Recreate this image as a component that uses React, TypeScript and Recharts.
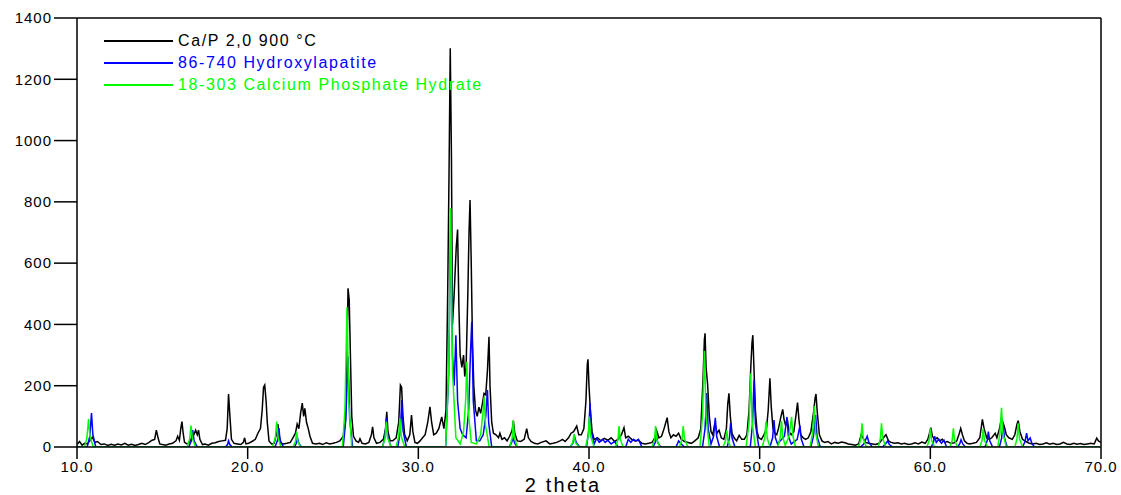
import { LineChart, Line, XAxis, YAxis, ReferenceLine } from 'recharts'

// 2 theta (deg) / intensity pairs
const sampleCaP: [number, number][] = [
  [10.0, 8], [10.15, 18], [10.3, 6], [10.45, 12], [10.6, 10], [10.75, 20], [10.9, 32], [11.05, 15],
  [11.2, 18], [11.4, 8], [11.6, 10], [11.8, 5], [12.0, 9], [12.2, 6], [12.4, 10], [12.6, 7],
  [12.8, 12], [13.0, 6], [13.2, 9], [13.4, 5], [13.6, 8], [13.8, 12], [14.0, 8], [14.2, 14],
  [14.4, 22], [14.55, 25], [14.65, 55], [14.75, 30], [14.85, 10], [15.0, 8], [15.2, 6], [15.4, 10],
  [15.6, 12], [15.8, 20], [15.9, 35], [16.0, 22], [16.08, 60], [16.15, 83], [16.22, 45], [16.3, 15],
  [16.45, 10], [16.55, 12], [16.7, 28], [16.85, 40], [16.95, 55], [17.05, 40], [17.12, 55], [17.2, 25],
  [17.35, 8], [17.5, 10], [17.7, 6], [17.9, 12], [18.1, 14], [18.3, 18], [18.5, 20], [18.7, 22],
  [18.8, 60], [18.88, 173], [18.96, 100], [19.05, 25], [19.2, 12], [19.4, 10], [19.6, 8], [19.75, 15],
  [19.82, 30], [19.9, 10], [20.05, 12], [20.25, 18], [20.45, 25], [20.6, 45], [20.75, 60], [20.85, 120],
  [20.93, 195], [21.0, 202], [21.08, 150], [21.15, 80], [21.25, 20], [21.4, 10], [21.55, 12], [21.68, 40],
  [21.77, 75], [21.85, 35], [21.95, 12], [22.1, 10], [22.3, 12], [22.5, 15], [22.65, 30], [22.8, 45],
  [22.9, 75], [23.0, 60], [23.1, 110], [23.2, 143], [23.28, 100], [23.35, 126], [23.45, 80], [23.55, 60],
  [23.65, 35], [23.8, 12], [24.0, 10], [24.2, 12], [24.4, 8], [24.6, 14], [24.8, 10], [25.0, 12],
  [25.2, 15], [25.4, 20], [25.6, 35], [25.72, 80], [25.8, 220], [25.88, 518], [25.95, 480], [26.02, 300],
  [26.1, 100], [26.2, 35], [26.35, 20], [26.5, 15], [26.58, 27], [26.7, 12], [26.9, 10], [27.1, 15],
  [27.25, 40], [27.32, 66], [27.4, 30], [27.55, 12], [27.75, 15], [27.95, 25], [28.08, 60], [28.15, 115],
  [28.22, 50], [28.35, 20], [28.5, 20], [28.7, 30], [28.85, 80], [28.95, 202], [29.02, 195], [29.1, 100],
  [29.2, 40], [29.35, 20], [29.5, 40], [29.6, 104], [29.68, 50], [29.8, 15], [29.95, 12], [30.1, 20],
  [30.25, 30], [30.4, 40], [30.55, 80], [30.68, 131], [30.78, 80], [30.9, 40], [31.05, 45], [31.2, 60],
  [31.37, 98], [31.5, 60], [31.62, 120], [31.72, 500], [31.8, 900], [31.87, 1301], [31.94, 950], [32.0, 400],
  [32.1, 500], [32.22, 650], [32.3, 710], [32.38, 450], [32.45, 300], [32.55, 260], [32.65, 300], [32.72, 230],
  [32.8, 260], [32.9, 500], [32.97, 700], [33.03, 806], [33.1, 600], [33.17, 350], [33.25, 200], [33.35, 120],
  [33.45, 100], [33.55, 130], [33.65, 110], [33.75, 140], [33.85, 175], [33.95, 170], [34.05, 250], [34.14, 360],
  [34.2, 200], [34.3, 80], [34.4, 45], [34.55, 40], [34.7, 30], [34.78, 45], [34.9, 25], [35.05, 30],
  [35.2, 20], [35.35, 35], [35.5, 55], [35.57, 85], [35.65, 45], [35.8, 20], [36.0, 18], [36.2, 25],
  [36.35, 60], [36.45, 30], [36.6, 18], [36.8, 12], [37.0, 10], [37.2, 15], [37.48, 20], [37.7, 10],
  [37.9, 12], [38.1, 15], [38.3, 20], [38.45, 25], [38.6, 18], [38.8, 30], [38.95, 45], [39.1, 50],
  [39.28, 68], [39.4, 40], [39.55, 40], [39.7, 60], [39.82, 150], [39.9, 270], [39.94, 286], [40.0, 200],
  [40.08, 120], [40.18, 50], [40.3, 25], [40.5, 30], [40.7, 20], [40.9, 28], [41.1, 22], [41.3, 30],
  [41.5, 18], [41.7, 25], [41.9, 40], [42.05, 63], [42.15, 30], [42.3, 35], [42.5, 25], [42.7, 20],
  [42.9, 22], [43.1, 12], [43.3, 10], [43.5, 12], [43.7, 15], [43.85, 30], [43.95, 55], [44.1, 30],
  [44.25, 35], [44.4, 60], [44.5, 80], [44.58, 96], [44.68, 50], [44.8, 30], [44.95, 40], [45.1, 35],
  [45.25, 45], [45.4, 25], [45.6, 18], [45.8, 15], [46.0, 12], [46.2, 20], [46.4, 30], [46.55, 60],
  [46.68, 220], [46.76, 350], [46.8, 371], [46.86, 260], [46.95, 205], [47.05, 100], [47.15, 50], [47.25, 40],
  [47.38, 78], [47.5, 45], [47.62, 55], [47.75, 30], [47.9, 25], [48.05, 60], [48.13, 140], [48.2, 175],
  [48.28, 100], [48.38, 45], [48.5, 30], [48.65, 20], [48.8, 38], [48.95, 25], [49.1, 25], [49.25, 40],
  [49.38, 120], [49.48, 260], [49.55, 340], [49.6, 365], [49.67, 250], [49.75, 120], [49.85, 50], [49.95, 30],
  [50.1, 25], [50.25, 40], [50.4, 60], [50.5, 120], [50.6, 224], [50.68, 130], [50.78, 60], [50.9, 45],
  [51.0, 40], [51.1, 60], [51.25, 100], [51.35, 123], [51.43, 90], [51.52, 70], [51.62, 90], [51.72, 50],
  [51.85, 40], [52.0, 50], [52.12, 100], [52.22, 145], [52.3, 90], [52.4, 40], [52.55, 30], [52.7, 25],
  [52.85, 30], [53.0, 50], [53.15, 110], [53.25, 160], [53.3, 173], [53.38, 110], [53.5, 40], [53.65, 20],
  [53.8, 15], [54.0, 18], [54.2, 10], [54.4, 15], [54.6, 12], [54.8, 16], [55.0, 14], [55.2, 10],
  [55.4, 8], [55.6, 6], [55.8, 10], [55.95, 40], [56.05, 30], [56.2, 15], [56.4, 12], [56.6, 10],
  [56.8, 8], [57.0, 12], [57.25, 30], [57.4, 40], [57.55, 20], [57.7, 15], [57.9, 12], [58.1, 14],
  [58.3, 10], [58.5, 12], [58.7, 8], [58.9, 10], [59.1, 14], [59.3, 10], [59.5, 16], [59.7, 12],
  [59.85, 25], [59.95, 45], [60.03, 63], [60.12, 35], [60.25, 25], [60.4, 30], [60.55, 20], [60.7, 25],
  [60.85, 15], [61.0, 18], [61.2, 12], [61.4, 14], [61.55, 20], [61.7, 45], [61.78, 61], [61.88, 40],
  [62.0, 20], [62.15, 12], [62.3, 10], [62.5, 12], [62.7, 15], [62.9, 30], [63.05, 90], [63.15, 60],
  [63.3, 30], [63.45, 25], [63.6, 30], [63.8, 45], [63.9, 30], [64.05, 60], [64.17, 95], [64.25, 80],
  [64.33, 68], [64.45, 40], [64.6, 30], [64.8, 25], [64.95, 40], [65.08, 75], [65.15, 86], [65.25, 50],
  [65.4, 25], [65.6, 18], [65.8, 12], [66.0, 10], [66.2, 12], [66.4, 8], [66.6, 10], [66.8, 14],
  [67.0, 9], [67.2, 12], [67.4, 8], [67.6, 10], [67.8, 15], [68.0, 10], [68.2, 8], [68.4, 12],
  [68.6, 9], [68.8, 11], [69.0, 8], [69.2, 10], [69.4, 12], [69.6, 10], [69.75, 29], [69.85, 20],
  [70.0, 15],
]

const hydroxylapatite: [number, number][] = [
  [10.0, 0], [10.6, 0], [10.75, 35], [10.85, 111], [10.93, 40], [11.1, 0],
  [16.55, 0], [16.7, 20], [16.78, 55], [16.86, 20], [17.05, 0],
  [18.7, 0], [18.82, 8], [18.88, 20], [18.95, 8], [19.1, 0],
  [21.6, 0], [21.75, 22], [21.83, 62], [21.9, 22], [22.1, 0],
  [22.75, 0], [22.85, 12], [22.92, 30], [23.0, 12], [23.15, 0],
  [25.6, 0], [25.75, 90], [25.88, 295], [25.98, 90], [26.15, 0],
  [27.9, 0], [28.05, 35], [28.13, 95], [28.2, 35], [28.4, 0],
  [28.8, 0], [28.95, 55], [29.03, 153], [29.1, 55], [29.3, 0],
  [31.6, 0], [31.78, 240], [31.9, 760], [32.0, 300], [32.1, 200], [32.2, 365], [32.3, 150], [32.45, 60],
  [32.6, 40], [32.8, 30], [32.95, 120], [33.05, 300], [33.13, 409], [33.22, 150], [33.4, 20], [33.6, 20],
  [33.8, 40], [33.95, 100], [34.05, 186], [34.12, 80], [34.3, 0],
  [35.3, 0], [35.45, 12], [35.55, 30], [35.65, 12], [35.8, 0],
  [38.9, 0], [39.05, 12], [39.15, 35], [39.25, 15], [39.45, 0],
  [39.85, 0], [39.98, 50], [40.06, 143], [40.14, 50], [40.3, 10], [40.45, 28], [40.6, 15], [40.8, 25],
  [40.95, 15], [41.1, 22], [41.3, 10], [41.5, 18], [41.7, 0],
  [42.15, 0], [42.3, 25], [42.45, 15], [42.6, 25], [42.75, 20], [42.9, 25], [43.1, 0],
  [43.75, 0], [43.88, 15], [43.95, 40], [44.02, 15], [44.2, 0],
  [45.1, 0], [45.25, 20], [45.4, 10], [45.6, 0],
  [46.65, 0], [46.8, 60], [46.9, 176], [46.98, 60], [47.15, 10], [47.3, 35], [47.4, 95], [47.48, 35], [47.65, 0],
  [48.1, 0], [48.23, 30], [48.3, 78], [48.38, 30], [48.55, 0],
  [49.45, 0], [49.58, 75], [49.67, 219], [49.75, 75], [49.95, 0],
  [50.6, 0], [50.76, 30], [50.84, 88], [50.92, 30], [51.05, 10], [51.2, 20], [51.45, 35], [51.6, 98],
  [51.68, 35], [51.85, 10], [52.2, 25], [52.36, 70], [52.44, 25], [52.6, 0],
  [53.0, 0], [53.15, 35], [53.28, 104], [53.36, 35], [53.55, 0],
  [55.9, 0], [56.1, 10], [56.3, 35], [56.4, 15], [56.6, 0],
  [57.2, 0], [57.4, 12], [57.5, 20], [57.6, 8], [57.8, 0],
  [60.05, 0], [60.18, 15], [60.25, 35], [60.35, 15], [60.5, 25], [60.65, 12], [60.8, 22], [60.95, 0],
  [61.6, 0], [61.72, 10], [61.8, 24], [61.9, 10], [62.05, 0],
  [63.2, 0], [63.33, 20], [63.4, 50], [63.48, 20], [63.65, 0],
  [64.05, 0], [64.18, 30], [64.26, 80], [64.34, 30], [64.5, 0],
  [65.4, 0], [65.55, 18], [65.64, 45], [65.72, 20], [65.85, 30], [65.95, 12], [66.1, 0], [70.0, 0],
]

const calciumPhosphateHydrate: [number, number][] = [
  [10.0, 0], [10.45, 0], [10.58, 30], [10.68, 91], [10.76, 35], [10.95, 0],
  [16.45, 0], [16.6, 25], [16.68, 70], [16.76, 28], [16.95, 0],
  [21.45, 0], [21.62, 30], [21.7, 83], [21.78, 30], [21.95, 0],
  [22.65, 0], [22.8, 18], [22.87, 50], [22.94, 18], [23.1, 0],
  [25.55, 0], [25.7, 120], [25.82, 456], [25.92, 150], [26.1, 0],
  [27.9, 0], [28.05, 30], [28.12, 83], [28.2, 30], [28.4, 0],
  [28.7, 0], [28.85, 35], [28.92, 94], [29.0, 35], [29.2, 0],
  [31.6, 0], [31.78, 250], [31.9, 779], [32.0, 250], [32.2, 30], [32.45, 10], [32.65, 50], [32.78, 160],
  [32.84, 278], [32.92, 120], [33.1, 15], [33.4, 10], [33.65, 40], [33.8, 120], [33.86, 164], [33.94, 70], [34.15, 0],
  [35.35, 0], [35.5, 30], [35.56, 88], [35.63, 30], [35.8, 0],
  [38.9, 0], [39.05, 15], [39.12, 41], [39.2, 15], [39.4, 0],
  [39.8, 0], [39.95, 35], [40.02, 99], [40.1, 35], [40.3, 0],
  [41.55, 0], [41.7, 25], [41.76, 68], [41.83, 25], [42.0, 0],
  [43.7, 0], [43.84, 25], [43.9, 68], [43.97, 25], [44.15, 0],
  [45.3, 0], [45.45, 25], [45.52, 68], [45.6, 25], [45.8, 0],
  [46.5, 0], [46.65, 100], [46.76, 313], [46.86, 100], [47.05, 0],
  [47.85, 0], [48.0, 20], [48.07, 55], [48.14, 20], [48.3, 0],
  [49.2, 0], [49.38, 80], [49.47, 240], [49.56, 80], [49.75, 0],
  [50.15, 0], [50.3, 30], [50.37, 83], [50.44, 30], [50.6, 0],
  [51.05, 0], [51.2, 30], [51.28, 85], [51.36, 30], [51.5, 5], [51.72, 35], [51.87, 98], [51.95, 35], [52.1, 0],
  [52.95, 0], [53.1, 45], [53.2, 134], [53.28, 45], [53.45, 0],
  [55.8, 0], [55.93, 28], [56.0, 77], [56.07, 28], [56.25, 0],
  [56.95, 0], [57.07, 28], [57.14, 77], [57.21, 28], [57.4, 0],
  [59.8, 0], [59.93, 22], [60.0, 61], [60.07, 22], [60.25, 0],
  [61.15, 0], [61.28, 22], [61.35, 61], [61.42, 22], [61.6, 0],
  [62.9, 0], [63.03, 22], [63.1, 61], [63.17, 22], [63.35, 0],
  [63.95, 0], [64.08, 45], [64.17, 128], [64.25, 45], [64.45, 0],
  [64.95, 0], [65.08, 28], [65.15, 77], [65.22, 28], [65.4, 0], [70.0, 0],
]

const xTicks = [10, 20, 30, 40, 50, 60, 70]
const yTicks = [0, 200, 400, 600, 800, 1000, 1200, 1400]

const series = [
  { name: 'Ca/P 2,0 900 °C', color: '#000000', points: sampleCaP },
  { name: '86-740 Hydroxylapatite', color: '#0000ff', points: hydroxylapatite },
  { name: '18-303 Calcium Phosphate Hydrate', color: '#00ff00', points: calciumPhosphateHydrate },
]

const font = '"Liberation Sans", Arial, sans-serif'
const tickStyle = { fontSize: 15, fill: '#000', fontFamily: font, letterSpacing: 1 }

// legend sits inside the plot, top left, like the instrument software draws it
function LegendBox() {
  return (
    <div style={{ position: 'absolute', left: 104, top: 30, fontFamily: font, fontSize: 16, letterSpacing: 1.6 }}>
      {series.map((s) => (
        <div key={s.name} style={{ position: 'relative', height: 22, paddingLeft: 74, lineHeight: '22px' }}>
          <div style={{ position: 'absolute', left: 0, top: 10, width: 69, height: 2, background: s.color }} />
          <span style={{ color: s.color, whiteSpace: 'nowrap' }}>{s.name}</span>
        </div>
      ))}
    </div>
  )
}

export default function App() {
  return (
    <div style={{ position: 'absolute', left: 0, top: 0, width: 1121, height: 495, background: '#fff' }}>
      <LineChart width={1121} height={495} margin={{ top: 18, right: 20, left: 7, bottom: 18 }}>
        <XAxis
          type="number"
          dataKey="x"
          domain={[10, 70]}
          ticks={xTicks}
          tickFormatter={(v) => v.toFixed(1)}
          tickSize={12}
          height={30}
          stroke="#000"
          strokeWidth={1.5}
          tick={tickStyle}
          allowDataOverflow
          label={{
            content: () => (
              <text x={563} y={492} textAnchor="middle" fontSize={20} letterSpacing={2.2} fontFamily={font} fill="#000">
                2 theta
              </text>
            ),
          }}
        />
        <YAxis
          type="number"
          dataKey="y"
          domain={[0, 1400]}
          ticks={yTicks}
          tickSize={23}
          width={70}
          stroke="#000"
          strokeWidth={1.5}
          tick={tickStyle}
          allowDataOverflow
        />
        <ReferenceLine y={1400} stroke="#000" strokeWidth={1.5} />
        <ReferenceLine x={70} stroke="#000" strokeWidth={1.5} />
        {series.map((s) => (
          <Line
            key={s.name}
            data={s.points.map(([x, y]) => ({ x, y }))}
            dataKey="y"
            name={s.name}
            type="linear"
            stroke={s.color}
            strokeWidth={1.5}
            dot={false}
            isAnimationActive={false}
          />
        ))}
      </LineChart>
      <LegendBox />
    </div>
  )
}
